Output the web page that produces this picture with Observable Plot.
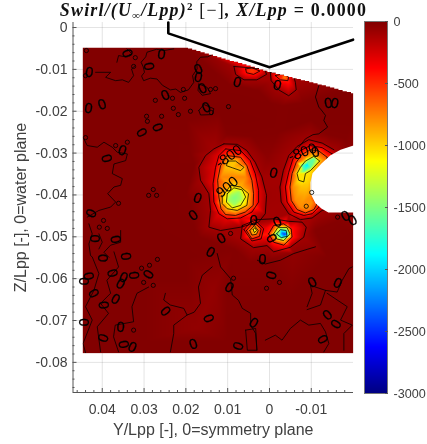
<!DOCTYPE html>
<html><head><meta charset="utf-8">
<script src="https://cdn.jsdelivr.net/npm/d3@7"></script>
<script src="https://cdn.jsdelivr.net/npm/@observablehq/plot@0.6"></script>
<style>
html,body{margin:0;padding:0;background:#fff}
#fig{position:relative;width:427px;height:444px;overflow:hidden;font-family:"Liberation Sans",Arial,sans-serif}
#fig svg{position:absolute;top:0;background:transparent;filter:blur(0.35px)}
#title{position:absolute;left:0;width:427px;top:1px;text-align:center;font:bold 17.9px "Liberation Serif",serif;letter-spacing:1.2px;color:#111;white-space:nowrap;line-height:18px;filter:blur(0.25px)}
#title i{font-style:italic}
#title sub{font-size:11px;line-height:0;vertical-align:-3px}
#title sup{font-size:11px;line-height:0;vertical-align:6px}
</style></head><body>
<div id="fig"><div id="title"><i>Swirl/(U<sub>∞</sub>/Lpp)</i><sup>2</sup> <span style="font-weight:normal">[−]</span><i>, X/Lpp</i> = 0.0000</div></div>
<script>
// All lengths below are in thousandths of Lpp: [Y, Z]
const xTicks=[0.04,0.03,0.02,0.01,0,-0.01];
const yTicks=[0,-0.01,-0.02,-0.03,-0.04,-0.05,-0.06,-0.07,-0.08];
const xMinor=[0.046,0.044,0.042,0.038,0.036,0.034,0.032,0.028,0.026,0.024,0.022,0.018,0.016,0.014,0.012,0.008,0.006,0.004,0.002,-0.002,-0.004,-0.006,-0.008,-0.012,-0.014,-0.016,-0.018];
const yMinor=[-0.002,-0.004,-0.006,-0.008,-0.012,-0.014,-0.016,-0.018,-0.022,-0.024,-0.026,-0.028,-0.032,-0.034,-0.036,-0.038,-0.042,-0.044,-0.046,-0.048,-0.052,-0.054,-0.056,-0.058,-0.062,-0.064,-0.066,-0.068,-0.072,-0.074,-0.076,-0.078,-0.082,-0.084,-0.086];
const barTicks=[0,-500,-1000,-1500,-2000,-2500,-3000];
const jetStops=[-3000,-2625,-1875,-1125,-375,0];
const jetColors=["#000080","#0000ff","#00ffff","#ffff00","#ff0000","#800000"];

const hull=[[24.2,1.2],[24.2,-1.4],[0,-9.5],[-20,-2.9]];

// measured-plane outline
const topEdge=[[20.6,-4.8],[19.5,-5],[18.5,-5.3],[17.5,-5.6],[16.5,-5.9],[15.5,-6.2],[14.5,-6.5],[13.5,-6.8],[12.5,-7.1],[11.5,-7.4],[10.5,-7.7],[9.5,-8],[8.5,-8.2],[7.5,-8.5],[6.5,-8.8],[5.5,-9.1],[4.5,-9.4],[3.5,-9.7],[2.5,-10],[1.5,-10.3],[.5,-10.6],[-.5,-10.8],[-1.5,-11.1],[-2.5,-11.3],[-3.5,-11.6],[-4.5,-11.8],[-5.5,-12.1],[-6.5,-12.3],[-7.5,-12.6],[-8.5,-12.8],[-9.5,-13.1],[-10.5,-13.3],[-11.5,-13.6],[-12.5,-13.8],[-13.5,-14.1],[-14.5,-14.3],[-15.5,-14.6],[-16.5,-14.9],[-17.5,-15.2],[-18.5,-15.4],[-19.5,-15.7],[-20.1,-15.8]];
const notchEdge=[[-20.1,-28.2],[-17,-29.2],[-14.6,-30.5],[-12.5,-32.4],[-10.3,-34.8],[-9.8,-37],[-9.8,-39.6],[-11,-42],[-12.5,-43.3],[-14.1,-44.2],[-20.1,-44.2]];
const outerCorners=[[-20.1,-77.8],[44.7,-77.8],[44.7,-4.8]];

// level rings of the hot regions
const leftRing100=[[10.9,-27.8],[13.3,-29],[15.3,-30.6],[16.9,-33.4],[16.5,-36.5],[14.5,-39.7],[14.1,-43.7],[14.5,-47.7],[11.7,-48.5],[6.9,-47.7],[2.6,-46.5],[1,-44.5],[.7,-40.1],[1.8,-35.7],[3.4,-32.2],[5.4,-29.4],[7.7,-27.9]];
const leftRing300=[[10.5,-29],[6.9,-29.4],[4.6,-31.8],[3.4,-34.9],[2.6,-38.9],[2.6,-41.7],[4.2,-44.1],[6.9,-45.5],[10.1,-45.7],[12.1,-44.5],[13.3,-41.7],[13.5,-37.3],[12.9,-33.4],[12.1,-30.6]];
const leftRing450=[[10.1,-30.6],[6.9,-31],[5.4,-33],[4.2,-36.5],[3.8,-39.7],[3.9,-42.5],[5.8,-44.1],[8.1,-44.9],[10.5,-44.7],[11.6,-43.3],[12.1,-40.5],[12.4,-36.5],[11.7,-33]];
const leftFill700=[[10.5,-32.2],[6.9,-32.6],[5.7,-35.7],[4.7,-38.9],[4.7,-42.1],[6.9,-43.7],[9.7,-43.9],[10.9,-42.5],[11.6,-39.7],[11.6,-35.7],[8.5,-35.7]];
const leftLobe950=[[10,-31.9],[8.1,-31.9],[6.1,-33.4],[6.9,-34.2],[8.9,-33.5],[10.3,-33]];
const leftCore900=[[11.3,-40.5],[9.3,-37.7],[6.9,-38.1],[5,-39.7],[5.4,-42.5],[7.7,-43.7],[10.1,-43.3],[11.3,-42.1]];
const leftCore1100=[[10.1,-39.7],[8.5,-38.3],[6.5,-38.8],[5.7,-40.5],[6.9,-42.5],[8.9,-43.1],[10.3,-41.7]];
const leftCore1400=[[9.2,-40.1],[7.3,-39.3],[6.8,-40.9],[8.4,-42.3],[9.7,-41.3]];

const rightRing100=[[-15.4,-29.2],[-12.6,-27.6],[-9.4,-26.8],[-6.6,-28.4],[-4.6,-30.6],[-3.3,-34.2],[-2.5,-38.1],[-2.8,-41.7],[-4.6,-44.5],[-7.4,-45.9],[-10.2,-45.5],[-12.6,-43.7],[-14.2,-43.3]];
const rightRing300=[[-15,-30.2],[-12.6,-28.7],[-9.8,-28.2],[-7.4,-29.4],[-5.6,-31.4],[-4.6,-34.6],[-3.8,-38.1],[-4.2,-41.7],[-5.8,-44.1],[-8.2,-44.9],[-10.2,-44.5],[-11.8,-42.9]];
const rightRing500=[[-13.8,-31],[-11.8,-29.5],[-9.8,-29.2],[-7.8,-30.3],[-6.4,-32.2],[-5.4,-34.9],[-4.9,-38.1],[-5.2,-41.3],[-6.6,-43.5],[-8.6,-44.3],[-10.6,-43.5],[-11.2,-42.5]];
const rightFill700=[[-12.8,-31.6],[-11,-30.3],[-8.6,-31.1],[-7,-33],[-6.2,-35.3],[-5.6,-38.1],[-6.2,-41.3],[-7.4,-42.9],[-9.4,-43.3],[-10.2,-41.7],[-9.6,-40.5]];
const rightRing1000=[[-12,-31.9],[-10.6,-30.8],[-8.6,-31.9],[-7.4,-33.4],[-6.6,-34.9],[-7,-36.5],[-8.2,-36.9],[-8.6,-34.9],[-9.8,-34.2]];
const rightRing1500=[[-10.6,-31.4],[-9,-32.2],[-7.8,-33],[-8.2,-34.3],[-9.8,-33.4]];

const lowerRing100=[[6.5,-47.3],[6.9,-50.5],[3.8,-52.6],[.6,-52.1],[-1,-53.6],[-5,-52.5],[-8.2,-50.1],[-8.8,-47.7],[-7.8,-46.5],[-4.6,-46.3],[-1,-45.7],[3,-45.9]];
const c300=[[6.1,-48.3],[3.8,-45.7],[1.4,-48.1],[2,-50.5],[4.2,-51]];
const c450=[[5.5,-48.5],[3.8,-46.5],[2,-48.1],[2.4,-49.9],[4.2,-50.5]];
const c700=[[4.7,-48.5],[3.6,-47.3],[2.7,-48.5],[3.1,-49.4],[4.2,-49.6]];
const c1000=[[3.9,-48.3],[3.5,-47.8],[3.1,-48.5],[3.6,-49]];
const d450=[[.2,-49.3],[-1,-47.3],[-3.4,-46.9],[-5.2,-48.1],[-5.4,-50.1],[-3.4,-52],[-1,-51.3]];
const d1000=[[-1,-49.3],[-2,-47.8],[-4.2,-47.8],[-4.9,-49.3],[-3.4,-50.9],[-1.7,-50.5]];
const d1700=[[-1.7,-49.3],[-2.6,-48.3],[-4,-48.5],[-4.2,-49.9],[-2.8,-50.2]];

const topA100=[[8.5,-9.3],[8.1,-11.2],[6.1,-12.5],[3,-12.5],[.7,-11.2],[1.2,-9.9]];
const topA450=[[5.7,-9.9],[4.2,-9.6],[2.3,-10.4],[3.8,-11.2],[5.5,-10.8]];
const topB100=[[-.2,-10.7],[-.4,-12.7],[-2.2,-14.9],[-4.6,-16.3],[-6.4,-14.9],[-6.2,-13.1],[-5.8,-11.7],[-3.4,-10.9]];
const topB450=[[-1.4,-11.5],[-2.6,-12.5],[-4.4,-12.7],[-4.6,-11.7],[-3,-11.1]];

// single sampled values [Y, Z, value]
const peaks=[[8.4,-40.7,-1500],[-9,-32.8,-1950],[3.5,-48.4,-1250],[-3,-49.1,-2300],[-2.3,-48.9,-1300],[-3.8,-49.4,-2500],[-2,-49.9,-1500],[4.2,-10.4,-560],[-3.7,-11.9,-800],[-7.6,-38,-950],[-8.6,-39.8,-880],[-9.2,-36.8,-1000]];
const background=[[46,-4,-5],[21,-4,-5],[-21,-14,-5],[-21,-79,-5],[46,-79,-5],[30,-20,-5],[20,-22,-5],[30,-40,-5],[20,-40,-10],[30,-60,-5],[20,-60,-5],[30,-75,-5],[10,-75,-5],[-10,-75,-5],[-20,-75,-5],[10,-62,-10],[-5,-65,-5],[-20,-60,-5],[10,-22,-5],[0,-22,-8],[-10,-22,-5],[-20,-22,-5],[12,-20,-5],[20,-55,-5],[5,-56,-20],[-20,-50,-5],[-14,-55,-5],[.5,-31,-40],[.3,-40,-90],[18,-33,-10],[18,-48,-10],[13.4,-62.7,-60],[17.3,-71.9,-55],[-5.8,-54,-50],[-21,-37,-100],[30,-50,-5],[0,-18,-10],[40,-70,-5],
 [19,-30,-12],[19,-42,-12],[17,-50,-12],[10,-25.5,-12],[4,-26,-12],[-2,-25,-12],[-14,-25.5,-12],[-18,-26.5,-12],[8.5,-53,-15],[0,-55.5,-15],[-11,-48.5,-15],[10,-13.5,-12],[3,-15,-12],[-8,-18,-12],[-3,-18.8,-12],[-16,-46.5,-15]];

// wiggly level lines through the quiet part of the plane
const wiggles=[
 [[22.9,-5.1],[25.3,-5.5],[27,-5.2],[29.3,-5.9],[29.6,-7],[30.7,-8.3],[30.2,-9.4],[29.9,-10.7],[30.6,-11.6],[30.1,-12.7],[28.5,-12.1],[26.9,-12.3],[25.6,-13.8],[23.7,-14.9],[22.4,-14.7],[21.3,-15.5],[19.4,-14.9],[18.1,-13.1],[18.4,-11.5],[17.3,-9.9],[17.4,-8.2],[16.5,-7.1],[14.8,-7],[13.3,-6.3]],
 [[41.6,-10.7],[38,-10.7],[39.2,-11.9],[36.8,-12.7],[35.2,-12.5],[33.7,-13.1],[32.5,-11.5],[33,-9.9],[32.1,-9.1]],
 [[36.5,-8.3],[36.1,-6.7],[34.5,-7],[32.9,-6.3],[34.1,-5.1]],
 [[-11.8,-13.9],[-11,-16.6],[-11.8,-19],[-12.4,-19.7],[-13.4,-21],[-13,-22.2],[-13.9,-23.8],[-11.8,-25.4],[-10.4,-25.6],[-8.6,-26.6],[-7,-28.6]],
 [[16.9,-19.8],[15.7,-18.4],[13.3,-19.4],[13.7,-20.8],[16.5,-20.9],[16.9,-19.8]],
 [[16.9,-13.5],[14.9,-14.3],[14.1,-15.8],[16.1,-16.2],[17.1,-15],[16.9,-13.5]],
 [[44.4,-26.6],[43.6,-28.2],[41.2,-28.6],[39.6,-27.4],[37.6,-28.6],[36.4,-29.8],[34,-30.2],[34.4,-31.8],[37.2,-32.6],[37.6,-34.9],[35.2,-36.1],[35.6,-37.7],[37.2,-38.1],[38.7,-39.7],[36.8,-41.7],[38,-42.9],[40.8,-43.7],[43.6,-45.3]],
 [[43.2,-46.9],[42.4,-49.3],[43.2,-51.7],[42.8,-54.5],[42.4,-54.8],[40.8,-58.8],[42,-62.8],[44,-66.7],[42.4,-69.9],[44.6,-75.5],[44,-77.7]],
 [[35.6,-48.5],[35.6,-51.3],[38,-52],[39.6,-53.7],[38.4,-54.9]],
 [[40.8,-49.3],[40,-51.3],[40.8,-52.9]],
 [[37.2,-53.6],[36.1,-57.2],[38.9,-60.4],[38,-63.5],[40.4,-65.9],[38.5,-68.3],[41.2,-71.5],[40.4,-77.5]],
 [[28.9,-62],[31.7,-63.5],[32.9,-66.7],[32.5,-70.3],[36.9,-71.1],[37.3,-73.9],[36.1,-77.5]],
 [[24.9,-63.5],[25.3,-65.1],[23.7,-66.3],[20.5,-67.1],[19.7,-68.7],[18,-68],[16.5,-65.9],[17,-62],[16.1,-59.2],[13.7,-57.2]],
 [[19.7,-68.7],[22.9,-71.1],[22.9,-73.1],[23.7,-77.5]],
 [[12.5,-54],[11.7,-57.2],[9.3,-60],[8.9,-63.9],[7.4,-65.2],[6.5,-67.1],[4.5,-68.3],[4.5,-71.1],[3.3,-73.1],[3,-77.1]],
 [[5.7,-72.3],[3.3,-71.9],[3,-77.1],[5.3,-77.1],[5.7,-72.3]],
 [[1,-74.7],[-1.4,-73.5],[-3,-74.7],[-5,-71.9],[-7.4,-69.9],[-9.4,-71.1],[-12.2,-70.7],[-13.4,-72.7],[-14.2,-75.5],[-13,-77.5]],
 [[2.9,-55.6],[1,-56.5],[-2.6,-55.6],[-5.8,-54],[-9,-53],[-11,-52.4]],
 [[-9,-67.4],[-12.2,-66.3],[-13.4,-62.8],[-9.8,-61.6],[-10.2,-63.5],[-9,-66.7]],
 [[-13.4,-62.8],[-16.2,-63.2],[-17.4,-60.4],[-19,-57.6],[-19.8,-57.2]],
 [[-13.8,-63.5],[-18.6,-66.7],[-17,-69.9],[-19.8,-71.1],[-17.8,-73.1],[-17.8,-77.1]]
];

// contour-label zeros: [Y, Z, rotation]
const zeroLabels=[[34,-6.2,70],[28.9,-9.3,80],[25.8,-6.4,10],[43.1,-10.7,10],[17,-10,-25],[17,-11.9,15],[16,-14.6,-25],[24.9,-16.2,-25],[43.3,-19.3,10],[40,-18.4,-20],[15.1,-19.1,-25],[30.6,-25.1,60],[26.8,-23.9,70],[35.2,-29.4,20],[39,-31.3,75],[42.6,-44.4,-65],[41.9,-50.4,90],[36.8,-50.6,80],[40,-55.1,90],[34.4,-54.7,85],[18.2,-44.9,-35],[17.2,-40.8,20],[-1,-34.8,15],[11.5,-50.4,-30],[14.1,-53.7,30],[3.8,-46.1,5],[-1.9,-46.5,-25],[-18.2,-45.1,-30],[-19.9,-46.1,-30],[7.7,-13.1,15],[-1.9,-13.8,15],[-14.1,-18.1,-10],[-15.6,-18.1,10],[44.5,-60.6,90],[43.3,-59.4,80],[42.1,-63.5,60],[37.6,-58.7,75],[35.6,-61.3,30],[34.9,-59.7,25],[32.5,-59.2,85],[28.9,-59,-60],[36.8,-64.9,30],[39.7,-66.3,85],[44.5,-70.4,90],[35.6,-71.6,5],[39.7,-74.2,-70],[34.9,-75.7,80],[32.8,-76.4,25],[24.9,-67.8,50],[14.6,-69.5,70],[18.2,-75.7,-20],[1.7,-55.4,5],[-.5,-59.2,-75],[9.6,-62.1,30],[-10.3,-60.9,-30],[-16.3,-61.1,25],[-13.9,-68.7,-40],[-16,-70.9,-60],[-12.7,-74.5,60],[3.8,-70.6,35],[7.4,-76.1,-70],[-.5,-50.4,60],[-11,-29.8,-15]];
// labelled levels inside the hot regions: [Y, Z, rotation, text]
const levelLabels=[[9.7,-30.8,-35,"-800"],[10.1,-38.1,-40,"900"],[-7.9,-29.8,-20,"-800"]];
// tiny closed level loops
const loops=[[32.5,-9.3],[32.1,-7.2],[43.8,-5.5],[44,-11.5],[20.6,-14.8],[20.3,-16.9],[27.3,-17.4],[23.2,-16.9],[23,-19.3],[21.8,-20.8],[18.9,-20],[13.9,-20.3],[29.4,-21.2],[25.8,-21.2],[29.2,-22.4],[44,-26.3],[34,-27.4],[36.8,-28.2],[39.7,-46.1],[40.7,-47.7],[38.8,-48],[36.1,-42],[27.8,-38.7],[28.9,-40.1],[27,-40.1],[28.7,-56.8],[30.6,-57.5],[30.1,-60.9],[27.8,-61.6],[32.5,-72.3],[26.8,-55.4],[.7,-62.3],[-2.4,-60.9],[8.6,-59.9],[12.9,-14.6],[14.1,-14.8],[9.8,-18.9],[9.3,-49.2],[-16.3,-45.3],[-10.1,-39.4],[-8.8,-42.7]];

// ---- assemble ----
const sampled=[[leftRing100,-100],[leftRing300,-300],[leftRing450,-580],[leftFill700,-770],[leftLobe950,-950],[leftCore900,-900],[leftCore1100,-1100],[leftCore1400,-1400],
 [rightRing100,-100],[rightRing300,-300],[rightRing500,-580],[rightFill700,-790],[rightRing1000,-1050],[rightRing1500,-1600],
 [lowerRing100,-100],[c300,-300],[c450,-450],[c700,-700],[c1000,-1000],[d450,-450],[d1000,-1000],[d1700,-1700],
 [topA100,-100],[topA450,-430],[topB100,-100],[topB450,-450]];
const drawnClosed=[leftRing100,leftRing300,leftRing450,leftLobe950,leftCore900,leftCore1100,rightRing300,rightRing500,rightRing1000,lowerRing100,c300,c450,c700,c1000,d450,d1000,d1700,topA100,topA450,topB100,topB450];
const drawnOpen=[rightRing100];
const m=v=>v/1000;
const field=[...sampled.flatMap(([r,v])=>r.map(p=>({y:m(p[0]),z:m(p[1]),v}))),...peaks.map(p=>({y:m(p[0]),z:m(p[1]),v:p[2]})),...background.map(p=>({y:m(p[0]),z:m(p[1]),v:p[2]}))];
const lineRows=[];let id=0;
for(const r of drawnClosed){id++;for(const p of [...r,r[0]])lineRows.push({y:m(p[0]),z:m(p[1]),id});}
for(const r of [...drawnOpen,...wiggles]){id++;for(const p of r)lineRows.push({y:m(p[0]),z:m(p[1]),id});}
// stepped top edge
const stair=[];topEdge.forEach((p,i)=>{if(i)stair.push([p[0],topEdge[i-1][1]]);stair.push(p);});
const outline=[...stair,...notchEdge,...outerCorners];

let clipN=0;
function clipToField(index,scales,values,dims,ctx,next){
  const g=next(index,scales,values,dims,ctx);
  const id="fieldclip"+(++clipN);
  const cp=document.createElementNS("http://www.w3.org/2000/svg","clipPath");cp.setAttribute("id",id);
  const poly=document.createElementNS("http://www.w3.org/2000/svg","polygon");
  poly.setAttribute("points",outline.map(p=>scales.x(m(p[0]))+","+scales.y(m(p[1]))).join(" "));
  cp.appendChild(poly);g.insertBefore(cp,g.firstChild);g.setAttribute("clip-path","url(#"+id+")");
  return g;
}
const ink="#404040",grid="#000",fmt=d=>String(d);
const colorScale={type:"linear",domain:jetStops,range:jetColors,clamp:true};
const zeroFont="'Liberation Sans Narrow','Liberation Sans',sans-serif";

const main=Plot.plot({width:427,height:444,marginLeft:72.5,marginRight:74,marginTop:22,marginBottom:52,
 style:{background:"transparent",fontFamily:"'Liberation Sans',Arial,sans-serif",fontSize:"14px",color:ink},
 x:{domain:[0.047,-0.0201],label:null},y:{domain:[-0.0872,0.0012],label:null},color:colorScale,
 marks:[
  Plot.gridX(xTicks,{stroke:grid,strokeOpacity:.11}),
  Plot.gridY(yTicks,{stroke:grid,strokeOpacity:.11}),
  Plot.raster(field,{x:"y",y:"z",fill:"v",interpolate:"barycentric",pixelSize:1,render:clipToField}),
  Plot.line(lineRows,{x:"y",y:"z",z:"id",stroke:"#000",strokeWidth:.9,strokeOpacity:.85,curve:"linear",render:clipToField}),
  Plot.dot(loops,{x:d=>m(d[0]),y:d=>m(d[1]),r:2.1,stroke:"#000",strokeWidth:.8,fill:"none"}),
  Plot.text(zeroLabels,{x:d=>m(d[0]),y:d=>m(d[1]),rotate:d=>d[2],text:()=>"0",fontSize:14.5,fontFamily:zeroFont,fill:"#000",stroke:"#000",strokeWidth:.25}),
  Plot.text(levelLabels,{x:d=>m(d[0]),y:d=>m(d[1]),rotate:d=>d[2],text:d=>d[3],fontSize:14.5,fontFamily:zeroFont,fill:"#000"}),
  Plot.line(hull,{x:d=>m(d[0]),y:d=>m(d[1]),stroke:"#000",strokeWidth:2.6,strokeLinejoin:"miter"}),
  Plot.ruleX([0.047],{stroke:"#555",strokeWidth:1}),
  Plot.ruleY([-0.0872],{stroke:"#555",strokeWidth:1}),
  Plot.axisX(xTicks,{anchor:"bottom",tickSize:-4,tickPadding:16,tickFormat:fmt,label:null,stroke:"#555",fill:ink,fontSize:14}),
  Plot.axisX(xMinor,{anchor:"bottom",tickSize:-2,text:null,label:null,stroke:"#555"}),
  Plot.axisY(yTicks,{anchor:"left",tickSize:-4,tickPadding:9.5,tickFormat:fmt,label:null,stroke:"#555",fill:ink,fontSize:14}),
  Plot.axisY(yMinor,{anchor:"left",tickSize:-2,text:null,label:null,stroke:"#555"}),
  Plot.text(["Y/Lpp [-], 0=symmetry plane"],{frameAnchor:"bottom",lineAnchor:"middle",textAnchor:"middle",dy:37,fontSize:16,fill:ink}),
  Plot.text(["Z/Lpp [-], 0=water plane"],{frameAnchor:"left",lineAnchor:"middle",textAnchor:"middle",dx:-52.5,rotate:-90,fontSize:16,fill:ink})
 ]});
document.getElementById("fig").appendChild(main);
main.style.left="0";

const bar=Plot.plot({width:87,height:444,marginLeft:24,marginRight:40,marginTop:21,marginBottom:51,
 style:{background:"transparent",fontFamily:"'Liberation Sans',Arial,sans-serif",fontSize:"12.6px",color:ink},
 x:{domain:[0,1],axis:null},y:{domain:[-3000,0],label:null},color:colorScale,
 marks:[
  Plot.raster({x1:0,x2:1,y1:-3000,y2:0,fill:(x,y)=>y,pixelSize:1}),
  Plot.frame({stroke:"#777",strokeWidth:1}),
  Plot.axisY(barTicks,{anchor:"right",tickSize:-3,tickPadding:9,tickFormat:fmt,label:null,stroke:"#555",fill:ink,fontSize:12.6})
 ]});
document.getElementById("fig").appendChild(bar);
bar.style.left="340px";
</script>
</body></html>
